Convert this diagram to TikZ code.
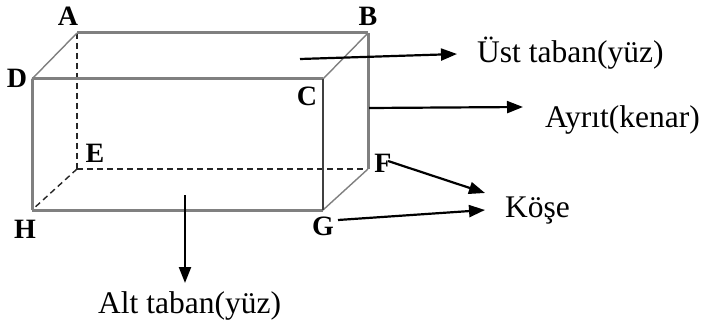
\documentclass[tikz,border=0pt]{standalone}
\usepackage{fontspec}
\setmainfont{Liberation Serif}
\usetikzlibrary{arrows.meta}
\begin{document}
\begin{tikzpicture}[x=1pt,y=-1pt,
  thickedge/.style={draw=black!50,line width=3pt},
  thinedge/.style={draw=black!50,line width=1.4pt},
  frontedge/.style={draw=black!75,line width=1.8pt},
  hidden/.style={draw=black!85,line width=1.4pt,dash pattern=on 6pt off 4pt},
  vlab/.style={inner sep=0pt,anchor=base,font=\fontsize{28}{28}\selectfont\bfseries},
  txt/.style={inner sep=0pt,anchor=base west,font=\fontsize{31.5}{31.5}\selectfont},
  arr/.style={draw=black,line width=2.2pt,-{Triangle[length=16pt,width=12pt]}}]
\useasboundingbox (0,0) rectangle (703,331);
\fill[white] (0,0) rectangle (703,331);
% corners
\coordinate (A) at (77,33);
\coordinate (B) at (368,33);
\coordinate (D) at (32,79);
\coordinate (C) at (323,79);
\coordinate (E) at (77,169);
\coordinate (F) at (368,169);
\coordinate (H) at (32,210);
\coordinate (G) at (323,210);
% hidden edges
\draw[hidden] (A) -- (E);
\draw[hidden] (E) -- (F);
\draw[hidden] (E) -- (H);
% visible edges
\draw[thickedge] (A) -- (B);
\draw[thickedge] (D) -- (C);
\draw[thickedge] (D) -- (H);
\draw[thickedge] (H) -- (G);
\draw[thickedge] (B) -- (F);
\draw[thinedge] (A) -- (D);
\draw[thinedge] (B) -- (C);
\draw[thinedge] (G) -- (F);
\draw[frontedge] (C) -- (G);
% vertex labels
\node[vlab] (lA) at (68,26) {A};
\node[vlab] (lB) at (368,26) {B};
\node[vlab] (lD) at (17,88) {D};
\node[vlab] (lC) at (307,106) {C};
\node[vlab] (lE) at (95,163) {E};
\node[vlab] (lF) at (383,172) {F};
\node[vlab] (lH) at (25,238) {H};
\node[vlab] (lG) at (323,235) {G};
% texts
\node[txt] (ust) at (477,63) {Üst taban(yüz)};
\node[txt] (ayr) at (545,128) {Ayrıt(kenar)};
\node[txt] (kose) at (505,217) {Köşe};
\node[txt] (alt) at (98,313) {Alt taban(yüz)};
% arrow ends
\coordinate (s1) at (300,59);
\coordinate (t1) at (457,54);
\coordinate (s2) at (369,108);
\coordinate (t2) at (523,107);
\coordinate (s3) at (388,161);
\coordinate (t3) at (485,193);
\coordinate (s4) at (338,220);
\coordinate (t4) at (485,210);
\coordinate (s5) at (185,195);
\coordinate (t5) at (185,283);
\draw[arr] (s1) -- (t1);
\draw[arr] (s2) -- (t2);
\draw[arr] (s3) -- (t3);
\draw[arr] (s4) -- (t4);
\draw[arr] (s5) -- (t5);
\end{tikzpicture}
\end{document}
